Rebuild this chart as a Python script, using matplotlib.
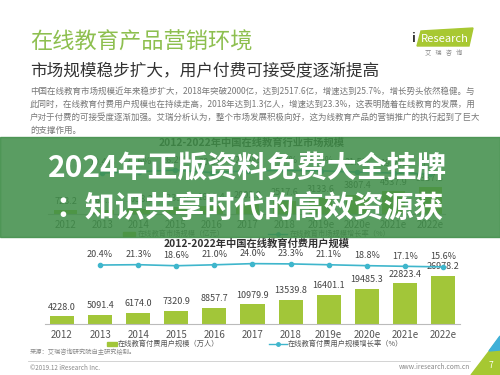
import matplotlib
matplotlib.use("Agg")
import matplotlib.pyplot as plt
from matplotlib.patches import Rectangle, Polygon

plt.rcParams['font.family'] = ['Noto Sans CJK SC', 'DejaVu Sans']

# 数据：年份、市场规模、付费用户规模与增长率
years = ['2012', '2013', '2014', '2015', '2016', '2017', '2018', '2019e', '2020e', '2021e', '2022e']
market_size = [723.2, 863.2, 1058.3, 1335.9, 1610.4, 2002.9, 2517.6, 3133.6, 3807.4, 4537.9, 5337.8]
market_growth = [19.4, 22.6, 26.2, 20.5, 24.4, 25.7, 24.5, 21.5, 19.2, 17.6]   # 2013 起
paid_users = [4228.0, 5091.4, 6174.0, 7320.9, 8857.7, 10979.9, 13539.8, 16401.1, 19485.3, 22823.4, 26978.2]
user_growth = [20.4, 21.3, 18.6, 21.0, 24.0, 23.3, 21.1, 18.8, 17.1, 15.6]      # 2013 起

paragraph = [
    "中国在线教育市场规模近年来稳步扩大，2018年突破2000亿，达到2517.6亿，增速达到25.7%，增长势头依然稳健。与",
    "此同时，在线教育付费用户规模也在持续走高，2018年达到1.3亿人，增速达到23.3%，这表明随着在线教育的发展，用",
    "户对于付费的可接受度逐渐加强。艾瑞分析认为，整个市场发展积极向好，这为线教育产品的营销推广的执行起到了巨大",
    "的支撑作用。",
]

lime = '#a2c639'
teal = '#3fb6cc'
W, H = 500, 375

fig = plt.figure(figsize=(5, 3.75), dpi=100)

# 背景画布，用像素坐标放文字
bg = fig.add_axes([0, 0, 1, 1])
bg.set_xlim(0, W)
bg.set_ylim(H, 0)
bg.axis('off')
bg.set_zorder(-1)

bg.text(30, 42, "在线教育产品营销环境", fontsize=16, color='#8dbf4f', va='center')
bg.text(30, 71, "市场规模稳步扩大，用户付费可接受度逐渐提高", fontsize=12, color='#333333', va='center')
for i, line in enumerate(paragraph):
    bg.text(30, 91 + i * 13, line, fontsize=6.1, color='#777777', va='center')

# logo
bg.add_patch(Polygon([(417, 46), (421, 31), (473, 28), (469, 46)], closed=True, color='#a8c832'))
bg.text(445, 38.5, "Research", fontsize=8, color='white', ha='center', va='center')
bg.text(413, 38.5, "i", fontsize=9, color='#333333', ha='center', va='center', fontweight='bold')
bg.text(444, 53, "艾   瑞   咨   询", fontsize=4.5, color='#888888', ha='center', va='center')

# 上方图（被横幅遮住）
bg.text(252, 143, "2012-2022年中国在线教育行业市场规模", fontsize=7.4, fontweight='bold',
        color='#333333', ha='center', va='center')
bg.add_patch(Rectangle((123, 232), 12, 4, color=lime))
bg.text(138, 234, "在线教育市场规模（亿元）", fontsize=5.2, color='#666666', va='center')
bg.plot([268, 287], [234, 234], color=teal, lw=1)
bg.plot([277.5], [234], 'o', color=teal, ms=2.5)
bg.text(290, 234, "在线教育市场规模增长率（%）", fontsize=5.2, color='#666666', va='center')

ax1 = fig.add_axes([48 / W, 1 - 214 / H, 397 / W, 64 / H])
x = list(range(len(years)))
ax1.bar(x, market_size, width=0.63, color=lime)
for xi, v in zip(x, market_size):
    ax1.annotate(f"{v:.1f}", (xi, v), xytext=(0, 3), textcoords='offset points',
                 ha='center', va='bottom', fontsize=6.5, color='#444444')
ax1.set_xlim(-0.49, 10.41)
ax1.set_ylim(0, 12550)
ax1.set_xticks(x)
ax1.set_xticklabels(years, fontsize=7, color='#555555')
ax1.tick_params(length=0, pad=4)
ax1.set_yticks([])
for s in ['top', 'right', 'left']:
    ax1.spines[s].set_visible(False)
ax1.spines['bottom'].set_color('#bbbbbb')
ax1.patch.set_alpha(0)
ax1b = ax1.twinx()
ax1b.plot(x[1:], market_growth, color=teal, lw=1.2, marker='o', ms=3)
for xi, v in zip(x[1:], market_growth):
    ax1b.annotate(f"{v:.1f}%", (xi, v), xytext=(0, 4), textcoords='offset points',
                  ha='center', va='bottom', fontsize=6.5, color='#444444')
ax1b.set_ylim(-78, 74)
ax1b.axis('off')

# 横幅
banner = fig.add_axes([0, 0, 1, 1])
banner.set_xlim(0, W)
banner.set_ylim(H, 0)
banner.axis('off')
banner.set_zorder(5)
banner.add_patch(Rectangle((0, 137), W, 100, color='#3f8d48', alpha=0.86))
banner.text(248, 168, "2024年正版资料免费大全挂牌", fontsize=21.5, fontweight='bold',
            color='white', ha='center', va='center')
banner.text(250, 208, "：知识共享时代的高效资源获", fontsize=21.5, fontweight='bold',
            color='white', ha='center', va='center')

# 下方图：付费用户规模
bg.text(257, 244, "2012-2022年中国在线教育付费用户规模", fontsize=7.4, fontweight='bold',
        color='#333333', ha='center', va='center')
bg.add_patch(Rectangle((107, 342), 10, 4, color=lime))
bg.text(118, 344, "在线教育付费用户规模（万人）", fontsize=5.2, color='#555555', va='center')
bg.plot([269, 287], [344, 344], color=teal, lw=1)
bg.plot([278], [344], 'o', color=teal, ms=2.5)
bg.text(288, 344, "在线教育付费用户规模增长率（%）", fontsize=5.2, color='#555555', va='center')

ax2 = fig.add_axes([45 / W, 1 - 324 / H, 415 / W, 74 / H])
ax2.bar(x, paid_users, width=0.63, color=lime)
for xi, v in zip(x, paid_users):
    ax2.annotate(f"{v:.1f}", (xi, v), xytext=(0, 3.5), textcoords='offset points',
                 ha='center', va='bottom', fontsize=6.5, color='#444444')
ax2.set_xlim(-0.446, 10.446)
ax2.set_ylim(0, 41600)
ax2.set_xticks(x)
ax2.set_xticklabels(years, fontsize=7, color='#555555')
ax2.tick_params(length=0, pad=4)
ax2.set_yticks([])
for s in ['top', 'right', 'left']:
    ax2.spines[s].set_visible(False)
ax2.spines['bottom'].set_color('#bbbbbb')
ax2.patch.set_alpha(0)
ax2b = ax2.twinx()
ax2b.plot(x[1:], user_growth, color=teal, lw=1.2, marker='o', ms=3)
for xi, v in zip(x[1:], user_growth):
    ax2b.annotate(f"{v:.1f}%", (xi, v), xytext=(0, 4), textcoords='offset points',
                  ha='center', va='bottom', fontsize=6.5, color='#444444')
ax2b.set_ylim(-131, 59)
ax2b.axis('off')

# 页脚
bg.text(30, 352, "来源：艾瑞咨询研究院自主研究绘制。", fontsize=4.5, color='#888888', va='center')
bg.plot([28, 470], [361, 361], color='#cccccc', lw=0.6)
bg.text(30, 368, "©2019.12 iResearch Inc.", fontsize=4.5, color='#888888', va='center')
bg.text(470, 367, "www.iresearch.com.cn", fontsize=4.8, color='#888888', ha='right', va='center')
bg.add_patch(Polygon([(471, 375), (500, 337), (500, 375)], closed=True, color='#a6c832'))
bg.add_patch(Polygon([(489, 351), (500, 336), (500, 350)], closed=True, color='#3fb0d8'))
bg.text(491, 366, "7", fontsize=6, color='white', ha='center', va='center')

fig.savefig("out.png", dpi=100)
